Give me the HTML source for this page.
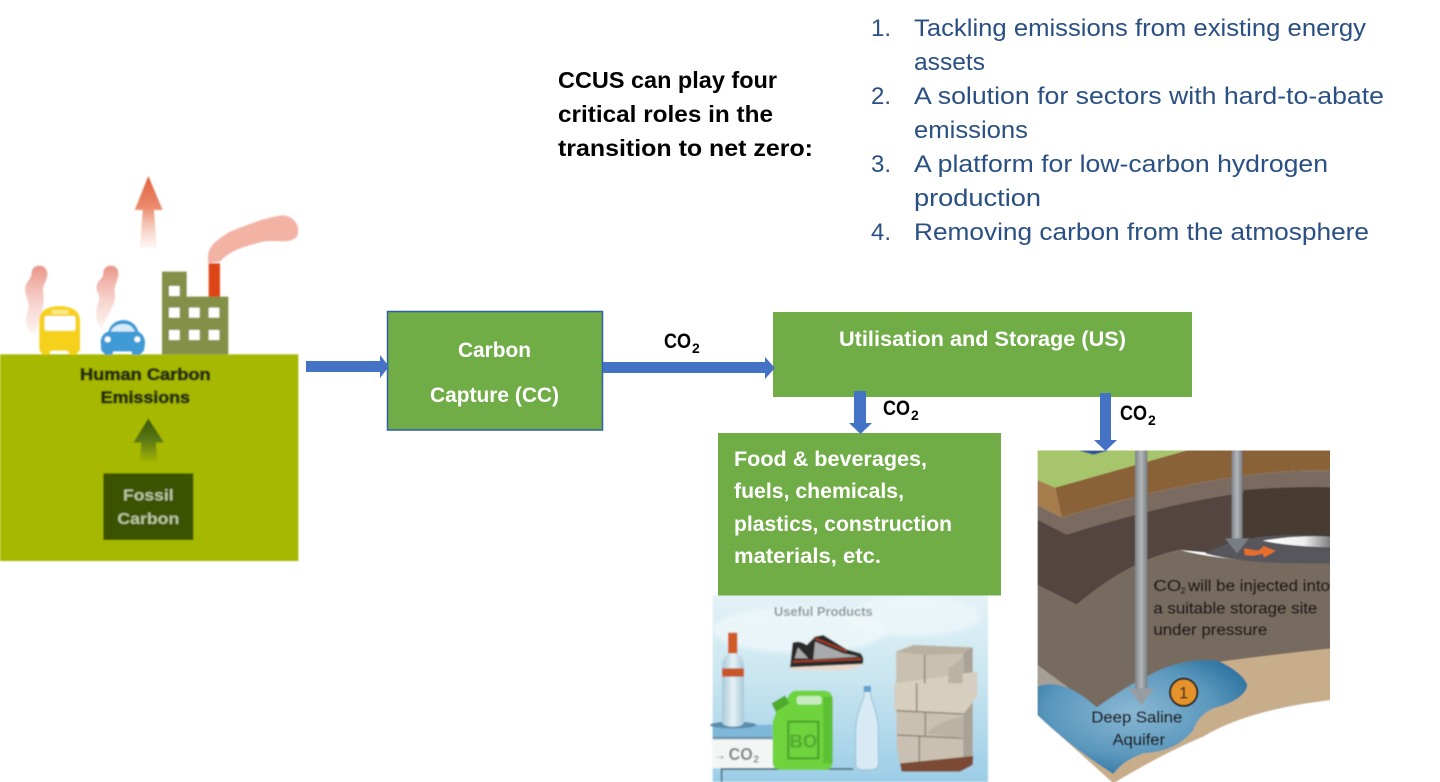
<!DOCTYPE html>
<html lang="en">
<head>
<meta charset="utf-8">
<title>CCUS diagram</title>
<style>
html,body{margin:0;padding:0;background:#fff;width:1440px;height:782px;overflow:hidden}
svg{display:block}
text{font-family:"Liberation Sans",sans-serif}
.l{font-size:24px;fill:#2a5083}
.h{font-size:23.5px;font-weight:bold;fill:#000}
.w{font-size:21px;font-weight:bold;fill:#fff}
.c{font-size:21px;font-weight:bold;fill:#000}
.s{font-size:14px;font-weight:bold;fill:#000}
</style>
</head>
<body>
<svg width="1440" height="782" viewBox="0 0 1440 782" xmlns="http://www.w3.org/2000/svg">
<defs>
<filter id="b" x="-5%" y="-5%" width="110%" height="110%"><feGaussianBlur stdDeviation="2.2"/></filter>
<filter id="b2" x="-5%" y="-5%" width="110%" height="110%"><feGaussianBlur stdDeviation="1.5"/></filter>
<filter id="b3" x="-20%" y="-20%" width="140%" height="140%"><feGaussianBlur stdDeviation="7"/></filter>
<linearGradient id="up" x1="0" y1="0" x2="0" y2="1"><stop offset="0" stop-color="#e0603a"/><stop offset=".45" stop-color="#ea8c6e"/><stop offset="1" stop-color="#f8d8cc" stop-opacity=".3"/></linearGradient>
<linearGradient id="gup" x1="0" y1="0" x2="0" y2="1"><stop offset="0" stop-color="#38560a"/><stop offset=".5" stop-color="#5d7a14"/><stop offset="1" stop-color="#a6b800"/></linearGradient>
<linearGradient id="smk" x1="0" y1="0" x2="0" y2="1"><stop offset="0" stop-color="#ea9488"/><stop offset="1" stop-color="#f8d8d0" stop-opacity=".35"/></linearGradient>
<linearGradient id="pipe" x1="0" y1="0" x2="1" y2="0"><stop offset="0" stop-color="#7d8388"/><stop offset=".5" stop-color="#b4b8bb"/><stop offset="1" stop-color="#777d82"/></linearGradient>
<linearGradient id="lens" x1="0" y1="0" x2="1" y2="0"><stop offset="0" stop-color="#fff"/><stop offset=".6" stop-color="#eee"/><stop offset="1" stop-color="#777"/></linearGradient>
<radialGradient id="aq" cx=".45" cy=".45" r=".6"><stop offset="0" stop-color="#8ab8d4"/><stop offset=".65" stop-color="#5b97bd"/><stop offset="1" stop-color="#2f76a2"/></radialGradient>
<linearGradient id="sky" x1="0" y1="0" x2="0" y2="1"><stop offset="0" stop-color="#e4f2f6"/><stop offset=".45" stop-color="#c9e5f0"/><stop offset="1" stop-color="#9ccde6"/></linearGradient>
<linearGradient id="bot" x1="0" y1="0" x2="1" y2="0"><stop offset="0" stop-color="#a8c8d8"/><stop offset=".5" stop-color="#e6f2f6"/><stop offset="1" stop-color="#a8c8d8"/></linearGradient>
<clipPath id="stc"><rect x="22" y="181" width="878" height="995"/></clipPath>
</defs>

<!-- Left illustration -->
<g transform="translate(0,160) scale(.33333)">
  <g filter="url(#b)">
    <rect x="0" y="583" width="895" height="620" fill="#a6b800"/>
    <polygon points="445,48 488,150 462,150 470,262 420,262 428,150 404,150" fill="url(#up)"/>
    <!-- factory smoke -->
    <path d="M625,310 C618,265 640,245 690,215 C740,195 800,170 850,166 C885,170 902,200 892,228 C870,255 830,238 790,245 C740,258 690,270 660,305 Z" fill="#f2b3a5"/>
    <!-- vehicle smoke -->
    <path d="M95,335 C100,310 140,310 142,340 C142,365 125,375 130,400 C135,440 120,480 105,520 C85,520 70,490 85,450 C92,420 65,395 80,370 C90,355 95,350 95,335 Z" fill="url(#smk)"/>
    <path d="M310,335 C315,310 355,310 355,340 C355,365 340,375 345,400 C350,430 320,470 305,505 C285,490 285,450 298,420 C300,400 280,390 295,365 C305,355 310,350 310,335 Z" fill="url(#smk)"/>
    <!-- bus -->
    <path d="M118,480 Q120,440 178,438 Q238,440 240,480 L240,570 L228,584 L208,584 L204,572 L152,572 L148,584 L128,584 L118,570 Z" fill="#f5d11c"/>
    <rect x="134" y="468" width="92" height="44" rx="6" fill="#fff"/>
    <rect x="155" y="450" width="50" height="12" fill="#fbe98a"/>
    <!-- car -->
    <path d="M302,545 Q305,520 325,515 Q335,482 370,480 Q405,482 415,515 Q435,525 435,550 L432,572 L420,584 L398,584 L394,574 L340,574 L336,584 L316,584 L304,572 Z" fill="#3f9ad6"/>
    <path d="M332,515 Q342,492 370,492 Q395,492 405,515 Z" fill="#d6ecf8"/>
    <circle cx="323" cy="538" r="9" fill="#fff"/><circle cx="412" cy="538" r="9" fill="#fff"/>
    <!-- factory -->
    <rect x="626" y="310" width="34" height="105" fill="#dd4513"/>
    <path d="M486,335 H560 V410 H685 V583 H486 Z" fill="#848f46"/>
    <g fill="#fff">
      <rect x="507" y="378" width="32" height="30"/>
      <rect x="507" y="443" width="32" height="30"/><rect x="567" y="443" width="32" height="30"/><rect x="626" y="443" width="32" height="30"/>
      <rect x="507" y="510" width="32" height="30"/><rect x="567" y="510" width="32" height="30"/><rect x="626" y="510" width="32" height="30"/>
    </g>
    <polygon points="445,775 492,848 468,848 472,910 420,910 424,848 400,848" fill="url(#gup)"/>
    <rect x="310" y="940" width="270" height="200" fill="#3b5205"/>
    <text x="436" y="660" text-anchor="middle" font-size="49" font-weight="bold" fill="#252e0c" textLength="392" lengthAdjust="spacingAndGlyphs" stroke="#252e0c" stroke-width="2.5">Human Carbon</text>
    <text x="436" y="729" text-anchor="middle" font-size="49" font-weight="bold" fill="#252e0c" textLength="268" lengthAdjust="spacingAndGlyphs" stroke="#252e0c" stroke-width="2.5">Emissions</text>
    <text x="445" y="1022" text-anchor="middle" font-size="47" font-weight="bold" fill="#b9c59a" textLength="152" lengthAdjust="spacingAndGlyphs">Fossil</text>
    <text x="445" y="1092" text-anchor="middle" font-size="47" font-weight="bold" fill="#b9c59a" textLength="186" lengthAdjust="spacingAndGlyphs">Carbon</text>
  </g>
</g>

<!-- Products illustration -->
<g transform="translate(700,590) scale(.33333)">
  <g filter="url(#b)">
    <rect x="38" y="15" width="826" height="561" fill="url(#sky)"/>
    <ellipse cx="300" cy="120" rx="260" ry="70" fill="#f2f9fb" opacity=".7" filter="url(#b3)"/>
    <ellipse cx="640" cy="80" rx="200" ry="60" fill="#f2f9fb" opacity=".6" filter="url(#b3)"/>
    <text x="370" y="78" text-anchor="middle" font-size="38" font-weight="bold" fill="#8c9499" textLength="296" lengthAdjust="spacingAndGlyphs">Useful Products</text>
    <!-- platform -->
    <rect x="38" y="404" width="180" height="36" fill="#7fb7d8"/>
    <rect x="38" y="440" width="180" height="8" fill="#6b94ad"/>
    <rect x="38" y="448" width="185" height="87" fill="#f4f6f6"/>
    <path d="M65,576 V537 H460" fill="none" stroke="#4a6a7c" stroke-width="5"/>
    <text x="40" y="508" font-size="38" font-weight="bold" fill="#777">→</text>
    <text x="86" y="510" font-size="52" font-weight="bold" fill="#7b7f82" textLength="72" lengthAdjust="spacingAndGlyphs">CO</text>
    <text x="160" y="518" font-size="30" font-weight="bold" fill="#7b7f82">2</text>
    <!-- bottle -->
    <ellipse cx="100" cy="405" rx="70" ry="10" fill="#5a8bab"/>
    <path d="M84,128 H112 V190 Q132,205 132,235 V395 Q132,410 100,410 Q66,410 66,395 V235 Q66,205 84,190 Z" fill="url(#bot)"/>
    <rect x="84" y="128" width="28" height="62" fill="#cf5a28"/>
    <rect x="66" y="235" width="66" height="25" fill="#c9552b"/>
    <!-- shoe -->
    <path d="M278,158 Q300,150 320,165 L345,140 L370,135 L440,178 L482,190 Q495,205 488,222 L270,232 Z" fill="#2a2a2c"/>
    <path d="M345,155 L430,190 L478,200 L340,208 Z" fill="#a9aaab"/>
    <path d="M294,172 L325,205 L284,205 Z" fill="#a9aaab"/>
    <path d="M270,232 L488,222 Q470,240 420,242 L275,240 Z" fill="#ead9cc"/>
    <path d="M345,145 L440,184" stroke="#a63a20" stroke-width="6"/>
    <path d="M278,215 L484,207" stroke="#a63a20" stroke-width="6"/>
    <!-- jerrycan -->
    <path d="M255,320 L215,340 L228,368 L218,395 V520 Q220,540 250,540 H375 Q398,540 398,515 V325 Q395,302 370,302 H285 Q270,305 262,325 Z" fill="#6ed33c"/>
    <rect x="290" y="318" width="75" height="26" rx="8" fill="#c8ecc0"/>
    <path d="M215,340 L255,316 L268,340 L228,365 Z" fill="#4eaa2b"/>
    <rect x="265" y="395" width="90" height="110" fill="none" stroke="#4ea52c" stroke-width="7"/>
    <text x="310" y="472" text-anchor="middle" font-size="56" font-weight="bold" fill="#52aa30">BO</text>
    <rect x="370" y="320" width="28" height="200" fill="#4fb52c" opacity=".6"/>
    <!-- water bottle -->
    <path d="M492,290 H512 V320 Q535,380 535,420 V525 Q535,540 500,540 Q467,540 467,525 V420 Q467,380 492,320 Z" fill="#d8eaf3" stroke="#97c0d8" stroke-width="3"/>
    <rect x="492" y="288" width="20" height="18" fill="#5f9fcb"/>
    <!-- bricks -->
    <polygon points="588,185 640,165 818,172 818,520 600,525 590,470" fill="#c9c0b1"/>
    <polygon points="790,180 818,172 818,520 790,520" fill="#a9a396"/>
    <polygon points="583,280 832,245 832,320 790,372 583,362" fill="#d6cebf"/>
    <path d="M674,190 V280 M650,280 V365 M676,365 V440 M658,440 V525 M590,362 L790,372 M592,435 L790,445" stroke="#85806f" stroke-width="4" fill="none"/>
    <polygon points="588,185 640,165 818,172 790,190 680,195" fill="#b9b0a0"/>
    <polygon points="600,520 820,498 818,525 780,545 605,545" fill="#7c4a35"/>
    <path d="M745,235 Q770,220 788,200 V280 H745 Z M680,430 Q720,390 790,380 V445 Z" fill="#bab2a3"/>
  </g>
</g>

<!-- Storage illustration -->
<g transform="translate(1030,390) scale(.33333)">
  <g clip-path="url(#stc)">
    <g filter="url(#b2)">
      <rect x="0" y="170" width="920" height="1010" fill="#fff"/>
      <path d="M22,820 L905,760 V930 Q650,960 520,1040 Q400,1090 250,1180 L22,975 Z" fill="#c8ad8b"/>
      <polygon points="22,180 475,180 75,293 22,270" fill="#a7c56a"/>
      <polygon points="22,270 75,293 95,382 22,345" fill="#a67c4e"/>
      <path d="M75,293 L475,180 H905 V243 Q600,230 95,382 Z" fill="#8a6239"/>
      <path d="M22,345 L95,382 Q600,230 905,243 V292 Q600,280 110,433 L22,388 Z" fill="#7a6a5e"/>
      <path d="M22,388 L110,433 Q600,280 905,292 V525 L450,480 Q300,510 140,645 L22,585 Z" fill="#54453f"/>
      <path d="M640,300 Q800,288 905,292 V525 L640,500 Z" fill="#463a33"/>
      <path d="M22,585 L140,645 Q300,510 450,480 Q600,520 905,520 V775 Q760,790 570,815 Q400,800 200,955 L22,825 Z" fill="#776a5f"/>
      <polygon points="22,825 200,955 22,885" fill="#a59f96"/>
      <path d="M22,890 Q100,860 200,952 Q300,880 400,835 Q500,800 570,815 Q640,850 652,885 Q645,930 550,955 Q505,975 490,1020 Q440,1085 340,1090 Q280,1110 250,1152 Q120,1070 22,975 Z" fill="url(#aq)"/>
      <path d="M525,490 Q600,450 700,440 Q800,430 905,440 V520 Q650,525 525,490 Z" fill="#56565b"/>
      <path d="M698,452 Q800,435 905,440 V472 Q780,470 698,452 Z" fill="url(#lens)"/>
      <rect x="605" y="181" width="32" height="265" fill="url(#pipe)"/>
      <polygon points="585,445 657,445 621,490" fill="#777d82"/>
      <rect x="315" y="181" width="37" height="715" fill="url(#pipe)"/>
      <polygon points="295,895 372,895 335,945" fill="#989da1"/>
      <path d="M642,475 L680,482 Q695,480 700,468 L737,483 L702,502 L698,490 Q670,500 645,495 Z" fill="#ea6e2a"/>
      <polygon points="145,181 238,181 190,194" fill="#2a4f9a"/>
      <circle cx="461" cy="907" r="41" fill="#e5932a" stroke="#1d1d1d" stroke-width="6"/>
      <text x="461" y="925" text-anchor="middle" font-size="50" fill="#1d1d1d">1</text>
      <g font-size="46" fill="#1f1a17" stroke="#1f1a17" stroke-width=".8">
        <text x="370" y="603" textLength="84" lengthAdjust="spacingAndGlyphs">CO</text>
        <text x="452" y="610" font-size="26">2</text>
        <text x="474" y="603" textLength="426" lengthAdjust="spacingAndGlyphs">will be injected into</text>
        <text x="370" y="670" textLength="492" lengthAdjust="spacingAndGlyphs">a suitable storage site</text>
        <text x="370" y="735" textLength="342" lengthAdjust="spacingAndGlyphs">under pressure</text>
        <text x="184" y="998" textLength="273" lengthAdjust="spacingAndGlyphs">Deep Saline</text>
        <text x="248" y="1065" textLength="157" lengthAdjust="spacingAndGlyphs">Aquifer</text>
      </g>
    </g>
  </g>
</g>

<!-- Boxes -->
<rect x="387.5" y="311.5" width="215" height="118.5" fill="#70ad47" stroke="#2f5fa8" stroke-width="1.5"/>
<rect x="773" y="312" width="419" height="85" fill="#70ad47"/>
<rect x="718" y="433" width="283" height="162.500" fill="#70ad47"/>

<!-- Arrows -->
<g fill="#4472c4">
  <polygon points="306,361 380,361 380,355 389,366.500 380,378 380,372 306,372"/>
  <polygon points="603,362 765,362 765,357 775,368 765,379 765,373 603,373"/>
  <polygon points="854,391 866,391 866,423 872,423 860.500,434 849,423 854,423"/>
  <polygon points="1100,393 1111,393 1111,440 1117,440 1105.500,451 1094,440 1100,440"/>
</g>

<!-- Box text -->
<text class="w" x="458" y="357" textLength="73" lengthAdjust="spacingAndGlyphs">Carbon</text>
<text class="w" x="430" y="402" textLength="129" lengthAdjust="spacingAndGlyphs">Capture (CC)</text>
<text class="w" x="839" y="346" textLength="287" lengthAdjust="spacingAndGlyphs">Utilisation and Storage (US)</text>
<text class="w" x="734" y="466" textLength="193" lengthAdjust="spacingAndGlyphs">Food &amp; beverages,</text>
<text class="w" x="734" y="498" textLength="170" lengthAdjust="spacingAndGlyphs">fuels, chemicals,</text>
<text class="w" x="734" y="531" textLength="218" lengthAdjust="spacingAndGlyphs">plastics, construction</text>
<text class="w" x="734" y="563" textLength="147" lengthAdjust="spacingAndGlyphs">materials, etc.</text>

<!-- CO2 labels -->
<text class="c" x="664" y="348" textLength="27" lengthAdjust="spacingAndGlyphs">CO</text><text class="s" x="692" y="353">2</text>
<text class="c" x="883" y="415" textLength="27" lengthAdjust="spacingAndGlyphs">CO</text><text class="s" x="911" y="420">2</text>
<text class="c" x="1120" y="420" textLength="27" lengthAdjust="spacingAndGlyphs">CO</text><text class="s" x="1148" y="425">2</text>

<!-- Heading -->
<text class="h" x="558" y="88" textLength="219" lengthAdjust="spacingAndGlyphs">CCUS can play four</text>
<text class="h" x="558" y="122" textLength="215" lengthAdjust="spacingAndGlyphs">critical roles in the</text>
<text class="h" x="558" y="156" textLength="255" lengthAdjust="spacingAndGlyphs">transition to net zero:</text>

<!-- List -->
<text class="l" x="871" y="36">1.</text>
<text class="l" x="914" y="36" textLength="452" lengthAdjust="spacingAndGlyphs">Tackling emissions from existing energy</text>
<text class="l" x="914" y="70" textLength="71" lengthAdjust="spacingAndGlyphs">assets</text>
<text class="l" x="871" y="104">2.</text>
<text class="l" x="914" y="104" textLength="470" lengthAdjust="spacingAndGlyphs">A solution for sectors with hard-to-abate</text>
<text class="l" x="914" y="138" textLength="114" lengthAdjust="spacingAndGlyphs">emissions</text>
<text class="l" x="871" y="172">3.</text>
<text class="l" x="914" y="172" textLength="414" lengthAdjust="spacingAndGlyphs">A platform for low-carbon hydrogen</text>
<text class="l" x="914" y="206" textLength="127" lengthAdjust="spacingAndGlyphs">production</text>
<text class="l" x="871" y="240">4.</text>
<text class="l" x="914" y="240" textLength="455" lengthAdjust="spacingAndGlyphs">Removing carbon from the atmosphere</text>
</svg>
</body>
</html>
